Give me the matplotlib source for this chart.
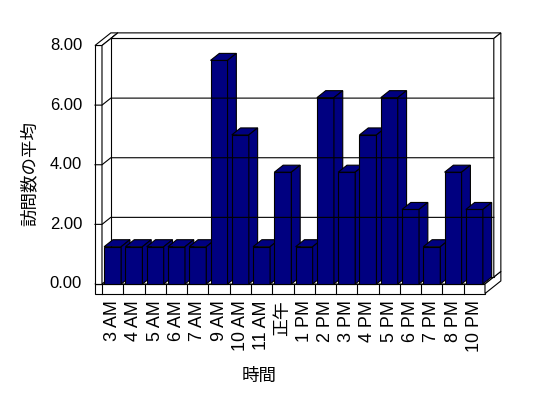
import matplotlib

# 画面表示なしで画像保存
matplotlib.use("Agg")

import matplotlib.pyplot as plt
from matplotlib.patches import Polygon

# =========================
# データ
# =========================
hours = ["3 AM", "4 AM", "5 AM", "6 AM", "7 AM", "9 AM", "10 AM", "11 AM", "正午",
         "1 PM", "2 PM", "3 PM", "4 PM", "5 PM", "6 PM", "7 PM", "8 PM", "10 PM"]
visits = [1.25, 1.25, 1.25, 1.25, 1.25, 7.5, 5.0, 1.25, 3.75,
          1.25, 6.25, 3.75, 5.0, 6.25, 2.5, 1.25, 3.75, 2.5]
y_ticks = [0, 2, 4, 6, 8]
y_tick_labels = ["0.00", "2.00", "4.00", "6.00", "8.00"]
x_title = "時間"
y_title = "訪問数の平均"

# =========================
# 見た目の設定
# =========================
NAVY = "#000080"
FONT = ["Liberation Sans", "Noto Sans CJK JP", "DejaVu Sans"]
FS = 12
LW = 0.8

# 奥行き方向のベクトル (データ単位)
DX, DY = 0.414, 0.235
WALL_D = 1.8     # 壁を含めた奥行き
WALL_W = 0.33    # 左の壁の厚さ
FLOOR_H = 0.32   # 床の厚さ

n = len(hours)
x_lo, x_hi = -0.5, n - 0.5
y_max = y_ticks[-1]

fig = plt.figure(figsize=(5.48, 3.98), dpi=100)
ax = fig.add_axes([0, 0, 1, 1])
ax.set_xlim(-5.294, 20.461)
ax.set_ylim(-3.824, 9.526)
ax.axis("off")


def quad(pts, fc):
    ax.add_patch(Polygon(pts, closed=True, facecolor=fc, edgecolor="black",
                         linewidth=LW, joinstyle="miter"))


def box(x0, x1, y0, y1, d0, d1, fc):
    # 前面・上面・右側面を描く
    def p(x, y, d):
        return (x + d * DX, y + d * DY)
    quad([p(x0, y0, d0), p(x1, y0, d0), p(x1, y1, d0), p(x0, y1, d0)], fc)
    quad([p(x0, y1, d0), p(x1, y1, d0), p(x1, y1, d1), p(x0, y1, d1)], fc)
    quad([p(x1, y0, d0), p(x1, y0, d1), p(x1, y1, d1), p(x1, y1, d0)], fc)


# 床
box(x_lo - WALL_W, x_hi, -FLOOR_H, 0, 0, WALL_D, "white")
for i in range(n):
    ax.plot([x_lo + i, x_lo + i], [-FLOOR_H, 0], color="black", lw=LW)

# 左の壁
box(x_lo - WALL_W, x_lo, 0, y_max, 0, WALL_D, "white")

# 奥の壁
box(x_lo, x_hi, 0, y_max, 1, WALL_D, "white")

# 目盛線
for v in y_ticks[1:-1]:
    ax.plot([x_lo - WALL_W, x_lo, x_lo + DX, x_hi + DX],
            [v, v, v + DY, v + DY], color="black", lw=LW)
for v in y_ticks[:1]:
    ax.plot([x_lo - WALL_W, x_lo], [v, v], color="black", lw=LW)

# 棒
for i, v in enumerate(visits):
    box(i - 0.4, i + 0.4, 0, v, 0, 1, NAVY)

# 軸ラベル
for v, lab in zip(y_ticks, y_tick_labels):
    ax.text(x_lo - 0.94, v, lab, ha="right", va="center",
            fontsize=FS, family=FONT)
for i, lab in enumerate(hours):
    ax.text(i, -0.54, lab, ha="center", va="top", rotation=90,
            fontsize=12.9, family=FONT)

fig.text(0.4726, 0.055, x_title, ha="center", va="center",
         fontsize=12.6, family=FONT)
fig.text(0.053, 0.565, y_title, ha="center", va="center", rotation=90,
         fontsize=12.6, family=FONT)

fig.savefig("out.png", dpi=100)
